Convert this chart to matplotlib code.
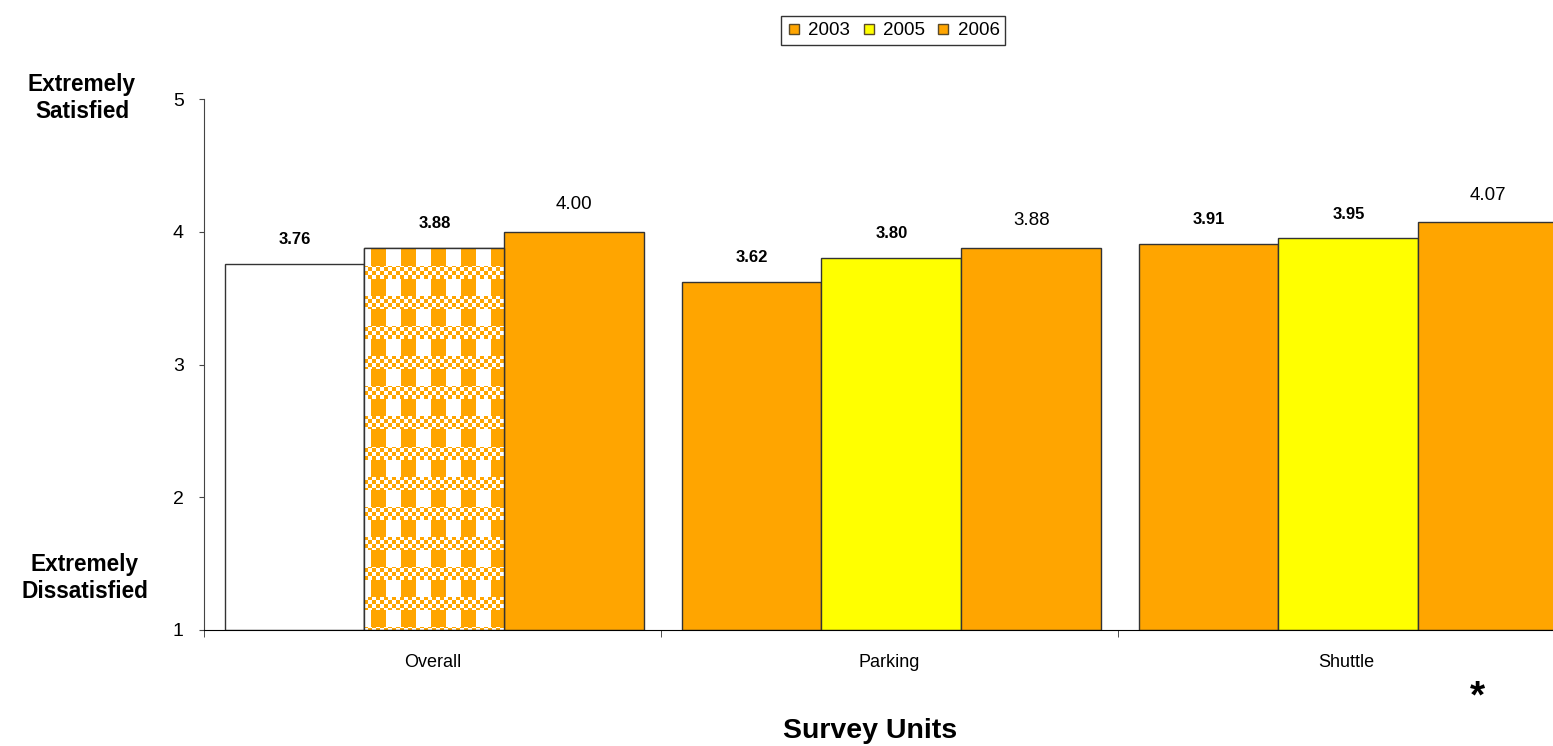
import numpy as np
import matplotlib
matplotlib.use("Agg")
import matplotlib.pyplot as plt
from matplotlib.lines import Line2D

plt.rcParams["font.family"] = ["Liberation Sans", "DejaVu Sans"]

# Survey data
categories = ["Overall", "Parking", "Shuttle"]
years = ["2003", "2005", "2006"]
scores_2003 = [3.76, 3.62, 3.91]
scores_2005 = [3.88, 3.80, 3.95]
scores_2006 = [4.00, 3.88, 4.07]
y_ticks = [1, 2, 3, 4, 5]

ORANGE = "#FFA500"
YELLOW = "#FFFF00"
EDGE = "#333333"

W, H = 1553, 746
fig = plt.figure(figsize=(W / 100, H / 100), dpi=100)
ax = fig.add_axes([204 / W, 116 / H, 1371 / W, 531 / H])
ax.set_xlim(-0.5, 2.5)
ax.set_ylim(1, 5)

width = 0.306
x = np.arange(len(categories))
series = [scores_2003, scores_2005, scores_2006]
colors = [
    ["white", ORANGE, ORANGE],
    [ORANGE, YELLOW, YELLOW],
    [ORANGE, ORANGE, ORANGE],
]

bars_by_series = []
for k, vals in enumerate(series):
    pos = x + (k - 1) * width + 0.004
    fc = [colors[k][i] for i in range(len(categories))]
    bars = ax.bar(pos, np.array(vals) - 1, width=width, bottom=1,
                  color=fc, edgecolor=EDGE, linewidth=1.0, zorder=2)
    bars_by_series.append(bars)
    for i, (b, v) in enumerate(zip(bars, vals)):
        if k < 2:
            ax.annotate(f"{v:.2f}", (b.get_x() + b.get_width() / 2, v),
                        xytext=(0, 17.5), textcoords="offset points",
                        ha="center", va="center", fontsize=12,
                        fontweight="bold")
        else:
            ax.annotate(f"{v:.2f}", (b.get_x() + b.get_width() / 2, v),
                        xytext=(0, 19.5), textcoords="offset points",
                        ha="center", va="center", fontsize=13.5)

# Gingham fill for the Overall 2005 bar
check_bar = bars_by_series[1][0]
check_bar.set_facecolor("white")
fig.canvas.draw()
bb = check_bar.get_window_extent()
wpx = int(round(bb.width))
hpx = int(round(bb.height))
yy, xx = np.mgrid[0:hpx, 0:wpx]
xs = (xx + 23) % 30
ys = (yy + 11) % 30
band = ys < 13
checks = ((xx // 4 + yy // 4) % 2 == 0)
stripes = xs < 15
orange_mask = np.where(band, checks, stripes)
img = np.ones((hpx, wpx, 3))
rgb = np.array(matplotlib.colors.to_rgb(ORANGE))
img[orange_mask] = rgb
x0 = check_bar.get_x()
x1 = x0 + check_bar.get_width()
im = ax.imshow(img, extent=(x0, x1, 1, 1 + check_bar.get_height()),
               aspect="auto", interpolation="nearest", origin="upper",
               zorder=2.1)
im.set_clip_path(check_bar)
ax.bar(check_bar.get_x() + width / 2, check_bar.get_height(), width=width,
       bottom=1, facecolor="none", edgecolor=EDGE, linewidth=1.0, zorder=2.2)
ax.set_xlim(-0.5, 2.5)
ax.set_ylim(1, 5)

# Axes styling
for s in ["top", "right"]:
    ax.spines[s].set_visible(False)
ax.spines["left"].set_color("#444444")
ax.spines["bottom"].set_color("black")
ax.spines["bottom"].set_zorder(3)
ax.set_yticks(y_ticks)
ax.set_yticklabels([str(t) for t in y_ticks])
ax.tick_params(axis="y", length=3.6, pad=11, labelsize=14, color="#444444")
ax.set_xticks(x)
ax.set_xticklabels(categories)
ax.set_xticks([-0.5, 0.5, 1.5, 2.5], minor=True)
ax.tick_params(axis="x", which="major", length=0, pad=17, labelsize=13)
ax.tick_params(axis="x", which="minor", length=5, color="#333333")

# Legend
handles = [Line2D([], [], marker="s", linestyle="none", markersize=7,
                  markerfacecolor=c, markeredgecolor="#5a4a2a",
                  markeredgewidth=1.0)
           for c in [ORANGE, YELLOW, ORANGE]]
leg = fig.legend(handles, years, loc="center", ncol=3,
                 bbox_to_anchor=(893 / W, 1 - 30.5 / H),
                 frameon=True, fancybox=False, fontsize=13.5,
                 handlelength=0.8, handletextpad=0.35, columnspacing=0.6,
                 borderpad=0.3, borderaxespad=0)
leg.get_frame().set_edgecolor("black")
leg.get_frame().set_linewidth(1.0)

# Scale anchors and titles
fig.text(82 / W, 1 - 98 / H, "Extremely\nSatisfied", ha="center", va="center",
         fontsize=16.3, fontweight="bold", multialignment="center")
fig.text(85 / W, 1 - 578 / H, "Extremely\nDissatisfied", ha="center",
         va="center", fontsize=16.3, fontweight="bold", multialignment="center")
fig.text(870 / W, 1 - 731 / H, "Survey Units", ha="center", va="center",
         fontsize=20.5, fontweight="bold")
fig.text(1477 / W, 1 - 697 / H, "*", ha="center", va="center",
         fontsize=28, fontweight="bold")

fig.savefig("out.png", dpi=100)
